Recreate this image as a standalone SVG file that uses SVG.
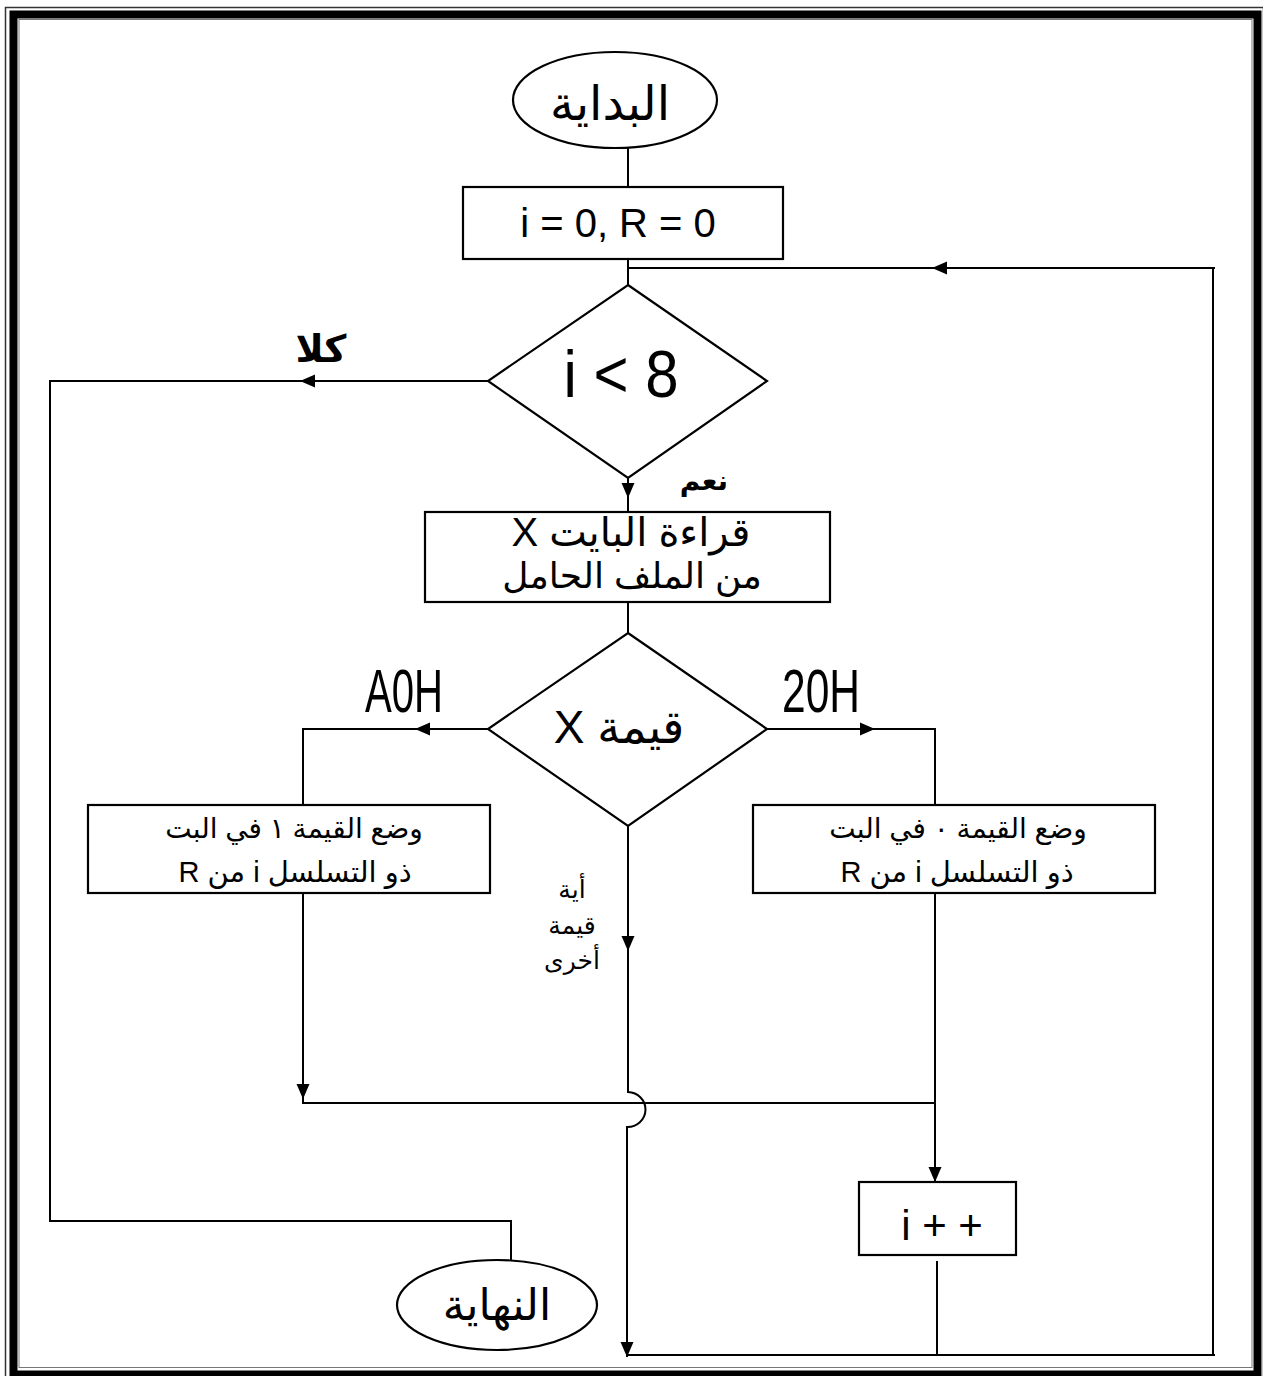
<svg xmlns="http://www.w3.org/2000/svg" width="1263" height="1376" viewBox="0 0 1263 1376">
  <style>
    .ln { fill: none; stroke: #000; stroke-width: 2; }
    .box { fill: #fff; stroke: #000; stroke-width: 2.2; }
    .t { font-family: "Liberation Sans", "DejaVu Sans", sans-serif; fill: #000; text-anchor: middle; }
    .ar { direction: rtl; unicode-bidi: embed; }
  </style>
  <defs>
    <!-- filled arrowhead pointing right, tip at origin -->
    <path id="tri" d="M0,0 L-15,-6.5 L-15,6.5 Z" fill="#000"/>
  </defs>

  <rect width="1263" height="1376" fill="#fff"/>

  <!-- page border: thin / thick / thin -->
  <g id="border">
    <rect x="5.5" y="7.5" width="1258" height="1380" fill="none" stroke="#333" stroke-width="1.5"/>
    <rect x="13.5" y="14.5" width="1244" height="1360" fill="none" stroke="#000" stroke-width="8"/>
    <rect x="19" y="19.5" width="1233" height="1348" fill="none" stroke="#777" stroke-width="1"/>
  </g>

  <g id="connectors">
    <!-- start to init -->
    <path class="ln" d="M628,148 V187"/>
    <!-- init to loop test, loop-back line -->
    <path class="ln" d="M628,259 V285"/>
    <path class="ln" d="M628,268 H1215"/>
    <path class="ln" d="M1213,268 V1355"/>
    <path class="ln" d="M628,1355 H1215"/>
    <use href="#tri" transform="translate(932,268) rotate(180)"/>
    <!-- "no" branch to end -->
    <path class="ln" d="M488,381 H50 V1221 H511 V1260"/>
    <use href="#tri" transform="translate(300,381) rotate(180)"/>
    <!-- "yes" branch -->
    <path class="ln" d="M628,478 V512"/>
    <use href="#tri" transform="translate(628,498) rotate(90)"/>
    <!-- read to value test -->
    <path class="ln" d="M628,602 V633"/>
    <!-- A0H branch -->
    <path class="ln" d="M488,729 H303 V805"/>
    <use href="#tri" transform="translate(415,729) rotate(180)"/>
    <!-- 20H branch -->
    <path class="ln" d="M767,729 H935 V805"/>
    <use href="#tri" transform="translate(875,729)"/>
    <!-- left box down to merge -->
    <path class="ln" d="M303,893 V1103 H935"/>
    <use href="#tri" transform="translate(303,1099) rotate(90)"/>
    <!-- right box down to increment -->
    <path class="ln" d="M935,893 V1182"/>
    <use href="#tri" transform="translate(935,1182) rotate(90)"/>
    <!-- increment back to loop line -->
    <path class="ln" d="M937,1261 V1355"/>
    <!-- other value: straight down with jump over merge line -->
    <path class="ln" d="M628,826 V1092 A18,17.5 0 0 1 627,1127 V1357"/>
    <use href="#tri" transform="translate(628,951) rotate(90)"/>
    <use href="#tri" transform="translate(627,1357) rotate(90)"/>
  </g>

  <g id="start">
    <ellipse class="box" cx="615" cy="100" rx="102" ry="48"/>
    <text class="t ar" x="610" y="120" font-size="48">البداية</text>
  </g>

  <g id="init">
    <rect class="box" x="463" y="187" width="320" height="72"/>
    <text class="t" x="618" y="237" font-size="40">i = 0, R = 0</text>
  </g>

  <g id="test-i">
    <polygon class="box" points="628,285 767,381 628,478 488,381"/>
    <text class="t" x="621" y="397" font-size="66" textLength="115" lengthAdjust="spacingAndGlyphs">i &lt; 8</text>
  </g>

  <g id="read">
    <rect class="box" x="425" y="512" width="405" height="90"/>
    <text class="t ar" x="631" y="546" font-size="40">قراءة البايت X</text>
    <text class="t ar" x="632" y="588" font-size="36">من الملف الحامل</text>
  </g>

  <g id="test-x">
    <polygon class="box" points="628,633 767,729 628,826 488,729"/>
    <text class="t ar" x="619" y="743" font-size="46">قيمة X</text>
  </g>

  <g id="set-one">
    <rect class="box" x="88" y="805" width="402" height="88"/>
    <text class="t ar" x="294" y="838" font-size="28">وضع القيمة ١ في البت</text>
    <text class="t ar" x="295" y="882" font-size="29">ذو التسلسل i من R</text>
  </g>

  <g id="set-zero">
    <rect class="box" x="753" y="805" width="402" height="88"/>
    <text class="t ar" x="958" y="838" font-size="28">وضع القيمة ٠ في البت</text>
    <text class="t ar" x="957" y="882" font-size="29">ذو التسلسل i من R</text>
  </g>

  <g id="increment">
    <rect class="box" x="859" y="1182" width="157" height="73"/>
    <text class="t" x="942" y="1240" font-size="42">i + +</text>
  </g>

  <g id="end">
    <ellipse class="box" cx="497" cy="1305" rx="100" ry="45"/>
    <text class="t ar" x="497" y="1320" font-size="44">النهاية</text>
  </g>

  <g id="labels">
    <text class="t ar" x="321" y="362" font-size="38" font-weight="bold">كلا</text>
    <text class="t ar" x="704" y="490" font-size="28" font-weight="bold">نعم</text>
    <text class="t" x="404" y="712" font-size="62" textLength="78" lengthAdjust="spacingAndGlyphs">A0H</text>
    <text class="t" x="821" y="712" font-size="62" textLength="78" lengthAdjust="spacingAndGlyphs">20H</text>
    <text class="t ar" x="572" y="898" font-size="25">أية</text>
    <text class="t ar" x="572" y="934" font-size="25">قيمة</text>
    <text class="t ar" x="572" y="969" font-size="25">أخرى</text>
  </g>
</svg>
